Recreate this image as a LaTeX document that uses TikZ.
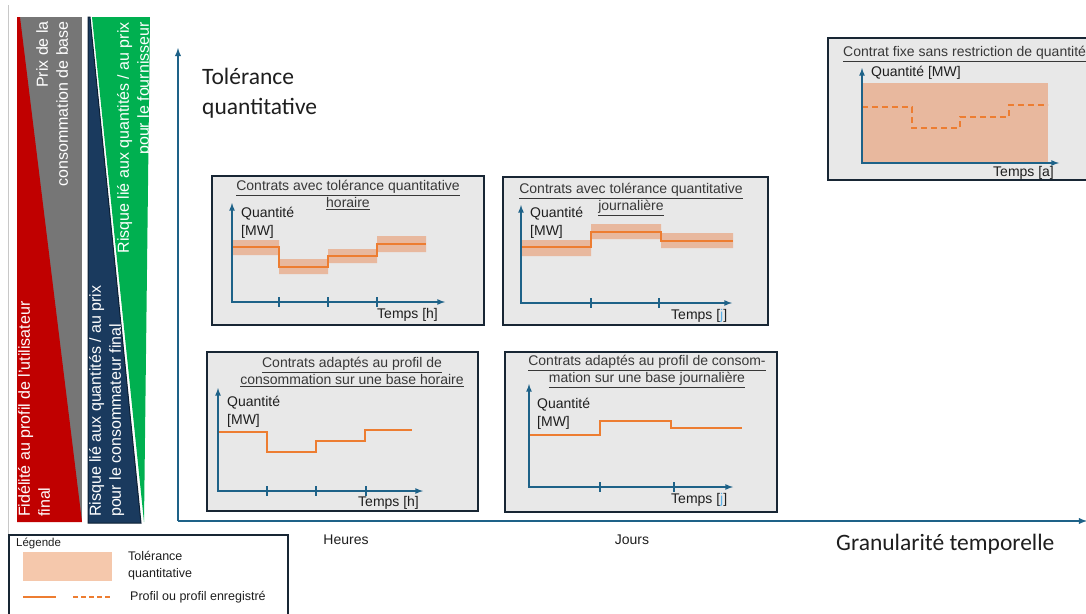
\documentclass[tikz,border=0pt]{standalone}
\usepackage{fontspec}
\setmainfont{Liberation Sans}
\newfontfamily\calibfont{Carlito}
\usetikzlibrary{arrows}

\definecolor{barred}{RGB}{192,0,0}
\definecolor{bargray}{RGB}{118,118,118}
\definecolor{barblue}{RGB}{26,58,94}
\definecolor{barblueline}{RGB}{12,30,50}
\definecolor{bargreen}{RGB}{0,176,80}
\definecolor{axblue}{RGB}{30,98,136}
\definecolor{boxgray}{RGB}{232,232,232}
\definecolor{boxline}{RGB}{24,38,52}
\definecolor{proforange}{RGB}{237,125,49}
\definecolor{bandorange}{RGB}{232,184,158}
\definecolor{legorange}{RGB}{245,200,172}
\definecolor{titlegray}{RGB}{56,56,56}
\definecolor{txtdark}{RGB}{30,30,30}
\definecolor{jcyan}{RGB}{90,175,230}
\definecolor{thingray}{RGB}{200,200,200}

\begin{document}
\begin{tikzpicture}[x=1pt, y=-1pt,
    box/.style={draw=boxline, line width=1.6pt, fill=boxgray},
    boxtitle/.style={font=\fontsize{14}{17}\selectfont, text=titlegray, align=center, inner sep=0pt},
    chartlbl/.style={font=\fontsize{14}{18}\selectfont, text=txtdark, align=left, inner sep=0pt},
    leglbl/.style={font=\fontsize{12.5}{17}\selectfont, text=txtdark, align=left, inner sep=0pt},
    bigtxt/.style={font=\calibfont\fontsize{23.5}{30}\selectfont, text=txtdark, align=left, inner sep=0pt},
    bartxt/.style={font=\fontsize{16}{20}\selectfont, text=white, rotate=90, inner sep=0pt},
    axis/.style={draw=axblue, line width=1.8pt, -latex},
    chartaxis/.style={draw=axblue, line width=1.6pt, latex-latex},
    tickmark/.style={draw=axblue, line width=1.5pt},
    profile/.style={draw=proforange, line width=2.2pt},
    band/.style={fill=bandorange},
  ]
  \useasboundingbox (0,0) rectangle (1086,613);
  \clip (0,0) rectangle (1086,613);

  % left bars
  \draw[thingray, line width=0.8pt] (8,5) -- (8,535);
  \fill[bargray] (17,17) rectangle (82,522);
  \fill[barred] (17,17) -- (20,17) -- (82,522) -- (17,522) -- cycle;
  \fill[bargreen] (92,17) -- (150,17) -- (144,522) -- cycle;
  \filldraw[fill=barblue, draw=barblueline, line width=1pt] (88,17) -- (90,17) -- (141,523) -- (88,523) -- cycle;

  \node[bartxt, anchor=north west, align=left] (fidelite) at (18,517) {Fidélité au profil de l'utilisateur\\final};
  \node[bartxt, anchor=north east, align=right] (prixbase) at (36,21) {Prix de la\\consommation de base};
  \node[bartxt, anchor=north west, align=left] (risqueconso) at (89,517) {Risque lié aux quantités / au prix\\pour le consommateur final};
  \node[bartxt, anchor=north east, align=right] (risquefourn) at (117,22) {Risque lié aux quantités / au prix\\pour le fournisseur};

  % main axes
  \coordinate (origin) at (178,521);
  \coordinate (ytop) at (178,48);
  \coordinate (xend) at (1087,521);
  \draw[axis] (origin) -- (ytop);
  \draw[axis] (origin) -- (xend);
  \node[bigtxt, anchor=north west] (toltxt) at (202,68) {Tolérance\\quantitative};
  \node[bigtxt, anchor=west] (grantxt) at (836,544) {Granularité temporelle};
  \node[chartlbl] (heures) at (346,540) {Heures};
  \node[chartlbl] (jours) at (632,540) {Jours};

  % tolerance horaire
  \draw[box] (212,176) rectangle (484,325);
  \node[boxtitle, anchor=north] (titleA) at (348,180) {\underline{Contrats avec tolérance quantitative}\\\underline{horaire}};
  \fill[band] (232,240) rectangle (279,255) (279,259) rectangle (328,274) (328,249) rectangle (377,263) (377,236) rectangle (426,252);
  \draw[profile] (232,247) -- (279,247) -- (279,267) -- (328,267) -- (328,256) -- (377,256) -- (377,244) -- (426,244);
  \draw[chartaxis] (232,203) -- (232,302) -- (445,302);
  \draw[tickmark] (279,297) -- (279,307) (328,297) -- (328,307) (377,297) -- (377,307);
  \node[chartlbl, anchor=north west] (qtyA) at (241,207) {Quantité\\{[MW]}};
  \node[chartlbl, anchor=west] (timeA) at (377,315) {Temps [h]};

  % tolerance journaliere
  \draw[box] (503,177) rectangle (768,325);
  \node[boxtitle, anchor=north] (titleB) at (631,183) {\underline{Contrats avec tolérance quantitative}\\\underline{journalière}};
  \fill[band] (521,240) rectangle (591,256) (591,224) rectangle (661,239) (661,233) rectangle (733,248);
  \draw[profile] (521,247) -- (591,247) -- (591,232) -- (661,232) -- (661,241) -- (733,241);
  \draw[chartaxis] (521,205) -- (521,303) -- (732,303);
  \draw[tickmark] (591,298) -- (591,308) (659,298) -- (659,308);
  \node[chartlbl, anchor=north west] (qtyB) at (530,207) {Quantité\\{[MW]}};
  \node[chartlbl, anchor=west] (timeB) at (671,316) {Temps [{\color{jcyan}j}]};

  % profil horaire
  \draw[box] (207,352) rectangle (478,511);
  \node[boxtitle, anchor=north] (titleC) at (352,357) {\underline{Contrats adaptés au profil de}\\\underline{consommation sur une base horaire}};
  \draw[profile] (218,432) -- (267,432) -- (267,452) -- (316,452) -- (316,441) -- (365,441) -- (365,430) -- (412,430);
  \draw[chartaxis] (218,388) -- (218,491) -- (423,491);
  \draw[tickmark] (267,486) -- (267,496) (316,486) -- (316,496) (366,486) -- (366,496);
  \node[chartlbl, anchor=north west] (qtyC) at (227,396) {Quantité\\{[MW]}};
  \node[chartlbl, anchor=west] (timeC) at (358,503) {Temps [h]};

  % profil journalier
  \draw[box] (505,352) rectangle (777,512);
  \node[boxtitle, anchor=north] (titleD) at (647,355) {\underline{Contrats adaptés au profil de consom-}\\\underline{mation sur une base journalière}};
  \draw[profile] (529,435) -- (600,435) -- (600,421) -- (671,421) -- (671,428) -- (742,428);
  \draw[chartaxis] (529,384) -- (529,487) -- (733,487);
  \draw[tickmark] (600,482) -- (600,492) (674,482) -- (674,492);
  \node[chartlbl, anchor=north west] (qtyD) at (537,398) {Quantité\\{[MW]}};
  \node[chartlbl, anchor=west] (timeD) at (671,500) {Temps [{\color{jcyan}j}]};

  % contrat fixe
  \draw[box] (828,38) rectangle (1100,180);
  \node[boxtitle, anchor=west] (titleE) at (843,54) {\underline{Contrat fixe sans restriction de quantité}};
  \fill[band] (862,83) rectangle (1048,163);
  \draw[profile, dash pattern=on 6pt off 4pt] (862,107) -- (912,107) -- (912,128) -- (960,128) -- (960,117) -- (1009,117) -- (1009,105) -- (1048,105);
  \draw[chartaxis] (862,68) -- (862,163) -- (1059,163);
  \node[chartlbl, anchor=west] (qtyE) at (871,73) {Quantité [MW]};
  \node[chartlbl, anchor=west] (timeE) at (993,173) {Temps [a]};

  % legende
  \draw[draw=boxline, line width=1.4pt] (9,535) rectangle (288,625);
  \node[leglbl, anchor=west, font=\fontsize{11.5}{14}\selectfont] (legtitle) at (16,543) {Légende};
  \fill[legorange] (23,552) rectangle (112,581);
  \node[leglbl, anchor=north west] (legband) at (128,551) {Tolérance\\quantitative};
  \draw[profile, line width=1.8pt] (23,597) -- (56,597);
  \draw[profile, line width=1.8pt, dash pattern=on 5pt off 3pt] (73,597) -- (110,597);
  \node[leglbl, anchor=west] (legprof) at (130,597) {Profil ou profil enregistré};
\end{tikzpicture}
\end{document}
